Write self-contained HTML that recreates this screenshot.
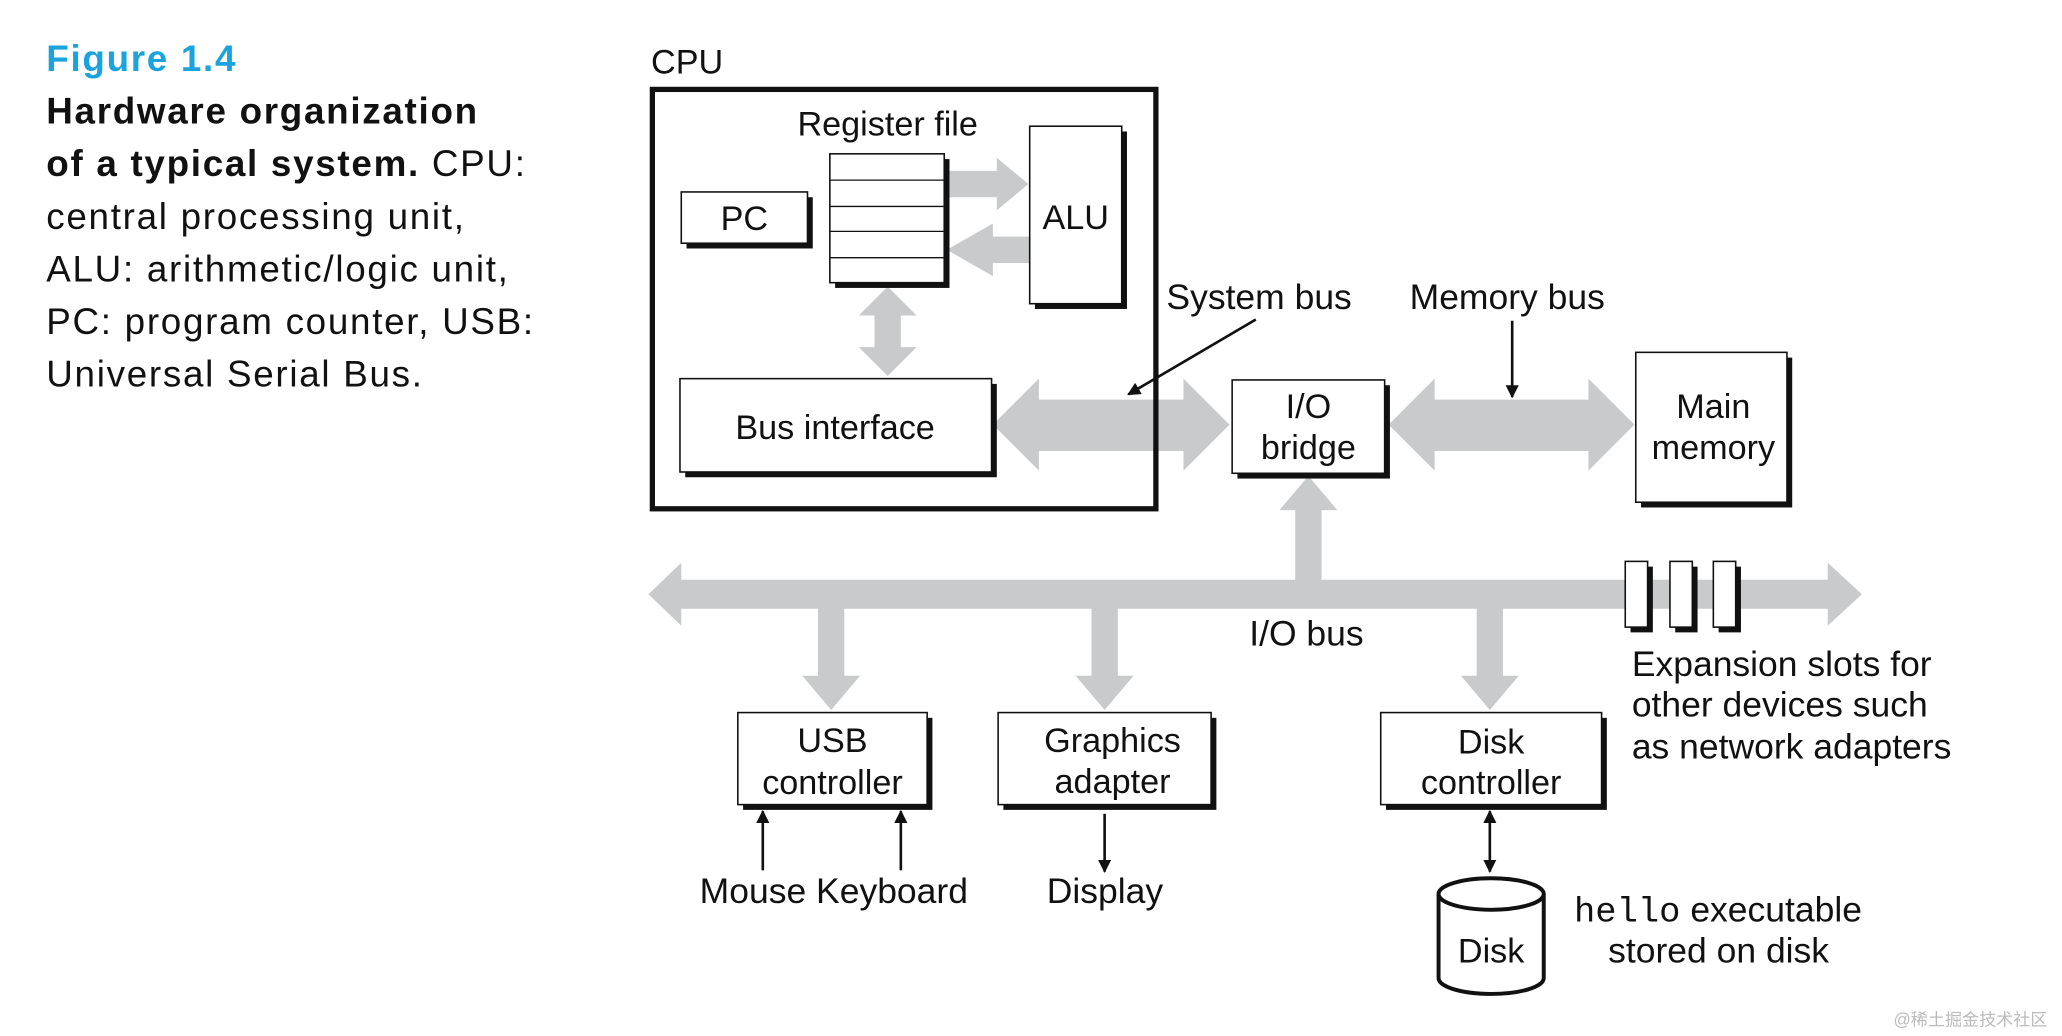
<!DOCTYPE html>
<html><head><meta charset="utf-8"><style>
html,body{margin:0;padding:0;background:#fff;}
svg{display:block;}
text{font-family:"Liberation Sans",Arial,sans-serif;fill:#111;}
</style></head><body>
<svg width="2062" height="1036" viewBox="0 0 1568 788" xmlns="http://www.w3.org/2000/svg">
<defs>
<marker id="ah" markerWidth="10" markerHeight="10" refX="9" refY="5" orient="auto" markerUnits="userSpaceOnUse"><path d="M0,0 L10,5 L0,10 z" fill="#111"/></marker>
<marker id="ahs" markerWidth="10" markerHeight="10" refX="1" refY="5" orient="auto" markerUnits="userSpaceOnUse"><path d="M10,0 L0,5 L10,10 z" fill="#111"/></marker>
</defs>
<g style="font-size:28px;letter-spacing:1.3px">
<text x="35" y="54" style="fill:#1aa3dd;font-weight:bold">Figure 1.4</text>
<text x="35" y="94" style="font-weight:bold">Hardware organization</text>
<text x="35" y="134"><tspan style="font-weight:bold">of a typical system.</tspan> CPU:</text>
<text x="35" y="174">central processing unit,</text>
<text x="35" y="214">ALU: arithmetic/logic unit,</text>
<text x="35" y="254">PC: program counter, USB:</text>
<text x="35" y="294">Universal Serial Bus.</text>
</g>
<g fill="#c8cacb">
<polygon points="722,130 758,130 758,120 782,140 758,160 758,150 722,150"/>
<polygon points="783,180 755,180 755,170 720,190 755,210 755,200 783,200"/>
<polygon points="675,218 697,240 685,240 685,264 697,264 675,286 653,264 665,264 665,240 653,240"/>
<polygon points="755,323 790,288 790,304 900,304 900,288 935,323 900,358 900,343 790,343 790,358"/>
<polygon points="1056,323 1091,288 1091,304 1208,304 1208,288 1243,323 1208,358 1208,343 1091,343 1091,358"/>
<polygon points="995,362 1017,388 1005,388 1005,445 985,445 985,388 973,388"/>
<polygon points="493,452 518,428 518,441 1390,441 1390,428 1416,452 1390,476 1390,463 518,463 518,476"/>
<polygon points="622,460 642,460 642,514 654,514 632,540 610,514 622,514"/>
<polygon points="830,460 850,460 850,514 862,514 840,540 818,514 830,514"/>
<polygon points="1123,460 1143,460 1143,514 1155,514 1133,540 1111,514 1123,514"/>
</g>
<text x="495" y="56" style="font-size:26px">CPU</text>
<rect x="496" y="68" width="383" height="319" fill="none" stroke="#111" stroke-width="4"/>
<text x="675" y="103" text-anchor="middle" style="font-size:26px">Register file</text>
<g stroke="#111">
<rect x="635" y="121" width="87" height="98" fill="#111" stroke="none"/>
<rect x="631" y="117" width="87" height="98" fill="#fff" stroke-width="1.2"/>
<line x1="631" y1="137" x2="718" y2="137"/><line x1="631" y1="157" x2="718" y2="157"/><line x1="631" y1="176" x2="718" y2="176"/><line x1="631" y1="196" x2="718" y2="196"/>
<rect x="522" y="150" width="96" height="39" fill="#111" stroke="none"/>
<rect x="518" y="146" width="96" height="39" fill="#fff" stroke-width="1.2"/>
<rect x="787" y="100" width="70" height="135" fill="#111" stroke="none"/>
<rect x="783" y="96" width="70" height="135" fill="#fff" stroke-width="1.2"/>
<rect x="521" y="292" width="237" height="71" fill="#111" stroke="none"/>
<rect x="517" y="288" width="237" height="71" fill="#fff" stroke-width="1.2"/>
<rect x="941" y="293" width="116" height="71" fill="#111" stroke="none"/>
<rect x="937" y="289" width="116" height="71" fill="#fff" stroke-width="1.2"/>
<rect x="1248" y="272" width="115" height="114" fill="#111" stroke="none"/>
<rect x="1244" y="268" width="115" height="114" fill="#fff" stroke-width="1.2"/>
<rect x="565" y="546" width="144" height="70" fill="#111" stroke="none"/>
<rect x="561" y="542" width="144" height="70" fill="#fff" stroke-width="1.2"/>
<rect x="763" y="546" width="162" height="70" fill="#111" stroke="none"/>
<rect x="759" y="542" width="162" height="70" fill="#fff" stroke-width="1.2"/>
<rect x="1054" y="546" width="168" height="70" fill="#111" stroke="none"/>
<rect x="1050" y="542" width="168" height="70" fill="#fff" stroke-width="1.2"/>
<rect x="1240" y="431" width="17" height="50" fill="#111" stroke="none"/>
<rect x="1236" y="427" width="17" height="50" fill="#fff" stroke-width="1.2"/>
<rect x="1274" y="431" width="17" height="50" fill="#111" stroke="none"/>
<rect x="1270" y="427" width="17" height="50" fill="#fff" stroke-width="1.2"/>
<rect x="1307" y="431" width="17" height="50" fill="#111" stroke="none"/>
<rect x="1303" y="427" width="17" height="50" fill="#fff" stroke-width="1.2"/>
</g>
<g stroke="#111" stroke-width="3" fill="#fff">
<path d="M1094,680 L1094,744 A40,12 0 0 0 1174,744 L1174,680"/>
<ellipse cx="1134" cy="680" rx="40" ry="12"/>
</g>
<g style="font-size:26px" text-anchor="middle">
<text x="566" y="175">PC</text>
<text x="818" y="174">ALU</text>
<text x="635" y="334">Bus interface</text>
<text x="995" y="318">I/O</text>
<text x="995" y="349">bridge</text>
<text x="1303" y="318">Main</text>
<text x="1303" y="349">memory</text>
<text x="633" y="572">USB</text>
<text x="633" y="604">controller</text>
<text x="846" y="572">Graphics</text>
<text x="846" y="603">adapter</text>
<text x="1134" y="573">Disk</text>
<text x="1134" y="604">controller</text>
<text x="1134" y="732">Disk</text>
</g>
<g style="font-size:27px">
<text x="887" y="235">System bus</text>
<text x="1072" y="235">Memory bus</text>
<text x="950" y="491">I/O bus</text>
<text x="1241" y="514">Expansion slots for</text>
<text x="1241" y="545">other devices such</text>
<text x="1241" y="577">as network adapters</text>
<text x="532" y="687">Mouse Keyboard</text>
<text x="796" y="687">Display</text>
<text x="1197" y="701"><tspan style="font-family:'Liberation Mono',monospace">hello</tspan> executable</text>
<text x="1307" y="732" text-anchor="middle">stored on disk</text>
</g>
<g stroke="#111" stroke-width="2" fill="none">
<line x1="955" y1="243" x2="858" y2="300" marker-end="url(#ah)"/>
<line x1="1150" y1="244" x2="1150" y2="302" marker-end="url(#ah)"/>
<line x1="580" y1="662" x2="580" y2="617" marker-end="url(#ah)"/>
<line x1="685" y1="662" x2="685" y2="617" marker-end="url(#ah)"/>
<line x1="840" y1="619" x2="840" y2="663" marker-end="url(#ah)"/>
<line x1="1133" y1="617" x2="1133" y2="663" marker-end="url(#ah)" marker-start="url(#ahs)"/>
</g>
<text x="1440" y="780" style="font-size:13px;fill:#bbb;font-family:'Liberation Sans','Noto Sans CJK SC',sans-serif">@稀土掘金技术社区</text>
</svg>
</body></html>
